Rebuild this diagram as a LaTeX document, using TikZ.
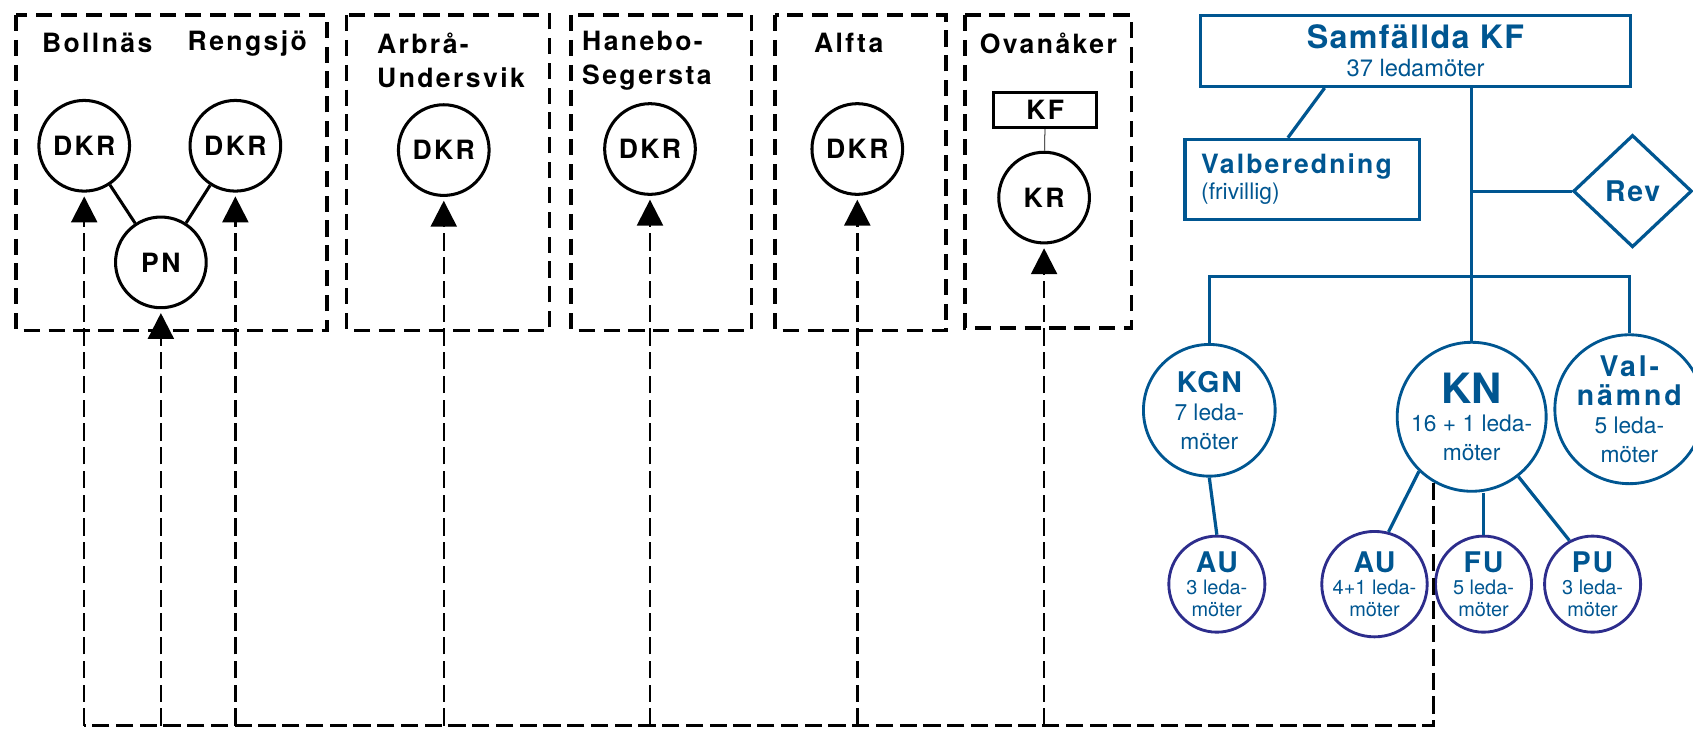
\documentclass[tikz,border=0pt]{standalone}
\usepackage{fontspec}
\setmainfont{TeX Gyre Heros}
\usetikzlibrary{shapes.geometric, arrows.meta, calc}
\definecolor{kfblue}{RGB}{0, 86, 145}
\definecolor{aupurple}{RGB}{45, 45, 140}
\newcommand{\headfont}{\fontsize{14}{18}\selectfont\bfseries\addfontfeatures{LetterSpace=9}}
\newcommand{\boardfont}{\fontsize{15}{17}\selectfont\bfseries\addfontfeatures{LetterSpace=6}}
\newcommand{\notefont}{\fontsize{12}{15}\selectfont}
\newcommand{\tinyfont}{\fontsize{10.5}{11.5}\selectfont}

\begin{document}
\begin{tikzpicture}[x=0.02cm, y=-0.02cm,
  zone/.style={line width=1.9pt, dash pattern=on 0.3cm off 0.16cm},
  unit/.style={draw, circle, line width=1.6pt, minimum size=1.68cm, inner sep=0pt, font=\headfont},
  link/.style={line width=1.3pt, dash pattern=on 0.32cm off 0.12cm},
  up/.style={link, -{Triangle[length=4.8mm, width=4.8mm]}, shorten >=2pt},
  org/.style={kfblue, line width=1.7pt},
  orgbox/.style={draw=kfblue, line width=1.7pt, text=kfblue, inner sep=0pt},
  board/.style={circle, draw=kfblue, line width=1.5pt, text=kfblue, inner sep=0pt, align=center, font=\notefont},
  sub/.style={circle, draw=aupurple, line width=1.5pt, text=kfblue, inner sep=0pt, align=center, minimum size=1.78cm, font=\tinyfont}
]
  \useasboundingbox (0,0) rectangle (1568,677);

  % local parishes
  \draw[zone] (15,14) rectangle (303,306);
  \draw[zone] (321,14) rectangle (509,306);
  \draw[zone] (529,14) rectangle (696,306);
  \draw[zone] (718,14) rectangle (876,306);
  \draw[zone] (894,14) rectangle (1048,304);

  \node[font=\headfont] (bol) at (90,40) {Bollnäs};
  \node[font=\headfont] (ren) at (229,40) {Rengsjö};
  \node[font=\headfont, align=left, anchor=west] (arb) at (343,56) {Arbrå-\\Undersvik};
  \node[font=\headfont, align=left, anchor=west] (han) at (533,56) {Hanebo-\\Segersta};
  \node[font=\headfont] (alf) at (786,40) {Alfta};
  \node[font=\headfont] (ova) at (971,40) {Ovanåker};

  \node[unit] (dkrbo) at (78,135) {DKR};
  \node[unit] (dkrre) at (218,135) {DKR};
  \node[unit] (pn) at (149,243) {PN};
  \node[unit] (dkrar) at (411,139) {DKR};
  \node[unit] (dkrha) at (602,138) {DKR};
  \node[unit] (dkral) at (794,138) {DKR};
  \node[draw, line width=1.5pt, minimum width=1.9cm, minimum height=0.64cm, inner sep=0pt, font=\headfont] (kfov) at (968,102) {KF};
  \node[unit] (kr) at (967,183) {KR};

  \draw[line width=1.6pt] (dkrbo) -- (pn);
  \draw[line width=1.6pt] (dkrre) -- (pn);
  \draw[thin] (kfov) -- (kr);

  % Samfällda kyrkofullmäktige
  \node[orgbox, minimum width=7.96cm, minimum height=1.32cm, align=center] (kf) at (1311,47)
    {{\fontsize{17}{19}\selectfont\bfseries\addfontfeatures{LetterSpace=4}Samfällda KF}\\[3pt]{\fontsize{12.5}{14}\selectfont 37 ledamöter}};
  \node[orgbox, minimum width=4.34cm, minimum height=1.48cm, text width=3.74cm, inner xsep=0.3cm, align=left] (valb) at (1206,166)
    {{\fontsize{14}{16}\selectfont\bfseries\addfontfeatures{LetterSpace=8}Valberedning}\\[2pt]{\notefont (frivillig)}};
  \node[diamond, draw=kfblue, line width=1.7pt, text=kfblue, minimum width=2.2cm, minimum height=2.08cm, inner sep=0pt, font=\boardfont] (rev) at (1512,177) {Rev};

  \coordinate (trunk) at (1363,256);
  \node[board, minimum size=2.44cm] (kgn) at (1120,380) {{\boardfont KGN}\\7 leda-\\möter};
  \node[board, minimum size=2.76cm] (kn) at (1363,386) {{\fontsize{22}{22}\selectfont\bfseries KN}\\16 + 1 leda-\\möter};
  \node[board, minimum size=2.36cm] (val) at (1509,379) {{\boardfont\addfontfeatures{LetterSpace=10}Val-}\\{\boardfont\addfontfeatures{LetterSpace=10}nämnd}\\5 leda-\\möter};

  \node[sub] (au1) at (1127,541) {{\boardfont AU}\\3 leda-\\möter};
  \node[sub] (au2) at (1273,541) {{\boardfont AU}\\4+1 leda-\\möter};
  \node[sub] (fu) at (1374,541) {{\boardfont FU}\\5 leda-\\möter};
  \node[sub] (pu) at (1475,541) {{\boardfont PU}\\3 leda-\\möter};

  \draw[org] ($(kf.south west)!0.29!(kf.south east)$) -- ($(valb.north west)!0.44!(valb.north east)$);
  \draw[org] (kf.south -| trunk) -- (trunk) -- (kn.north);
  \draw[org] (trunk |- rev) -- (rev.west);
  \draw[org] (kgn.north) |- (trunk) -| (val.north);
  \draw[org] (kgn.south) -- (au1.north);
  \draw[org] (kn.226) -- (au2.75);
  \draw[org] (fu.north) -- (fu.north |- kn.south);
  \draw[org] (kn.308) -- (pu.118);

  % dashed links up to the parishes
  \coordinate (bus) at (0,672);
  \draw[link] (kn.240) -- (kn.240 |- bus) -- (dkrbo.south |- bus);
  \draw[up] (dkrbo.south |- bus) -- (dkrbo.south);
  \draw[up] (pn.south |- bus) -- (pn.south);
  \draw[up] (dkrre.south |- bus) -- (dkrre.south);
  \draw[up] (dkrar.south |- bus) -- (dkrar.south);
  \draw[up] (dkrha.south |- bus) -- (dkrha.south);
  \draw[up] (dkral.south |- bus) -- (dkral.south);
  \draw[up] (kr.south |- bus) -- (kr.south);
\end{tikzpicture}
\end{document}
